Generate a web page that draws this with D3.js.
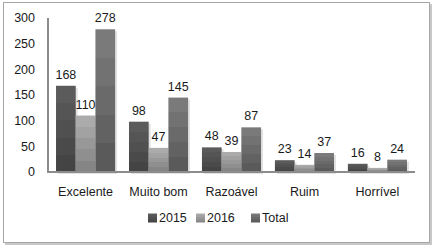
<!DOCTYPE html>
<html>
<head>
<meta charset="utf-8">
<script src="https://cdn.jsdelivr.net/npm/d3@7"></script>
<style>
  body { margin: 0; background: #fff; }
  text { font-family: "Liberation Sans", Arial, sans-serif; fill: #1a1a1a; }
</style>
</head>
<body>
<script>
// dados
const categorias = ["Excelente", "Muito bom", "Razoável", "Ruim", "Horrível"];
const series = ["2015", "2016", "Total"];
const valores2015 = [168, 98, 48, 23, 16];
const valores2016 = [110, 47, 39, 14, 8];
const valoresTotal = [278, 145, 87, 37, 24];
const ticksY = [0, 50, 100, 150, 200, 250, 300];

const WIDTH = 434;
const HEIGHT = 247;
const MARGIN = { top: 18, right: 19, bottom: 75, left: 48 };

// cor de cima e de baixo de cada série (degradê em faixas)
const cores = {
    "2015": ["#5b5b5b", "#444444"],
    "2016": ["#ababab", "#858585"],
    "Total": ["#7a7a7a", "#5a5a5a"],
};

const dados = categorias.map((c, i) => ({
    categoria: c,
    valores: [valores2015[i], valores2016[i], valoresTotal[i]],
}));

const svg = d3.select("body")
    .append("svg")
    .attr("width", WIDTH)
    .attr("height", HEIGHT);

const defs = svg.append("defs");
series.forEach((s, k) => {
    const grad = defs.append("linearGradient")
        .attr("id", "grad" + k)
        .attr("x1", 0).attr("y1", 0).attr("x2", 0).attr("y2", 1);
    const passos = 5;
    const interp = d3.interpolateRgb(cores[s][0], cores[s][1]);
    for (let p = 0; p < passos; p++) {
        const c = interp(p / (passos - 1));
        grad.append("stop").attr("offset", p / passos).attr("stop-color", c);
        grad.append("stop").attr("offset", (p + 1) / passos).attr("stop-color", c);
    }
});

// moldura com sombra
svg.append("rect")
    .attr("x", 5).attr("y", 4)
    .attr("width", 427).attr("height", 241)
    .attr("fill", "#c8c8c8");
svg.append("rect")
    .attr("x", 3.5).attr("y", 2.5)
    .attr("width", 426).attr("height", 240)
    .attr("fill", "#fff")
    .attr("stroke", "#a6a6a6")
    .attr("stroke-width", 1);

const x0 = d3.scaleBand()
    .domain(categorias)
    .range([MARGIN.left, WIDTH - MARGIN.right])
    .paddingInner(0.19)
    .paddingOuter(0.11);

const x1 = d3.scaleBand()
    .domain(series)
    .range([0, x0.bandwidth()]);

const y = d3.scaleLinear()
    .domain([0, 300])
    .range([HEIGHT - MARGIN.bottom - 0, MARGIN.top]);

const base = y(0);

// rótulos do eixo Y
svg.append("g")
    .selectAll("text")
    .data(ticksY)
    .join("text")
    .attr("x", 35)
    .attr("y", (d) => y(d))
    .attr("dy", "0.35em")
    .attr("text-anchor", "end")
    .attr("font-size", 12.5)
    .text((d) => d);

const grupos = svg.append("g")
    .selectAll("g")
    .data(dados)
    .join("g")
    .attr("transform", (d) => `translate(${x0(d.categoria)},0)`);

const itens = (d) => d.valores.map((v, k) => ({ serie: series[k], k: k, v: v }));

// sombra das barras
grupos.selectAll("rect.sombra")
    .data(itens)
    .join("rect")
    .attr("class", "sombra")
    .attr("x", (d) => x1(d.serie) + 2)
    .attr("y", (d) => y(d.v) + 2)
    .attr("width", x1.bandwidth())
    .attr("height", (d) => base - y(d.v))
    .attr("fill", "#e2e2e2");

grupos.selectAll("rect.barra")
    .data(itens)
    .join("rect")
    .attr("class", "barra")
    .attr("x", (d) => x1(d.serie))
    .attr("y", (d) => y(d.v))
    .attr("width", x1.bandwidth())
    .attr("height", (d) => base - y(d.v))
    .attr("fill", (d) => `url(#grad${d.k})`);

grupos.selectAll("text")
    .data(itens)
    .join("text")
    .attr("x", (d) => x1(d.serie) + x1.bandwidth() / 2)
    .attr("y", (d) => y(d.v) - 7)
    .attr("text-anchor", "middle")
    .attr("font-size", 12.5)
    .text((d) => d.v);

// eixos
svg.append("line")
    .attr("x1", MARGIN.left).attr("x2", MARGIN.left)
    .attr("y1", MARGIN.top).attr("y2", base + 1)
    .attr("stroke", "#8c8c8c").attr("stroke-width", 2);
svg.append("line")
    .attr("x1", MARGIN.left - 1).attr("x2", WIDTH - MARGIN.right)
    .attr("y1", base).attr("y2", base)
    .attr("stroke", "#8c8c8c").attr("stroke-width", 2);

// rótulos das categorias
svg.append("g")
    .selectAll("text")
    .data(categorias)
    .join("text")
    .attr("x", (d) => x0(d) + x0.bandwidth() / 2)
    .attr("y", 192)
    .attr("dy", "0.35em")
    .attr("text-anchor", "middle")
    .attr("font-size", 12.5)
    .text((d) => d);

// legenda
const legX = [148, 196, 251];
const legenda = svg.append("g")
    .selectAll("g")
    .data(series)
    .join("g")
    .attr("transform", (d, i) => `translate(${legX[i]},218)`);
legenda.append("rect")
    .attr("x", 0).attr("y", -4.5)
    .attr("width", 9).attr("height", 9)
    .attr("fill", (d, i) => `url(#grad${i})`);
legenda.append("text")
    .attr("x", 11)
    .attr("y", 0)
    .attr("dy", "0.35em")
    .attr("font-size", 12.5)
    .text((d) => d);
</script>
</body>
</html>
